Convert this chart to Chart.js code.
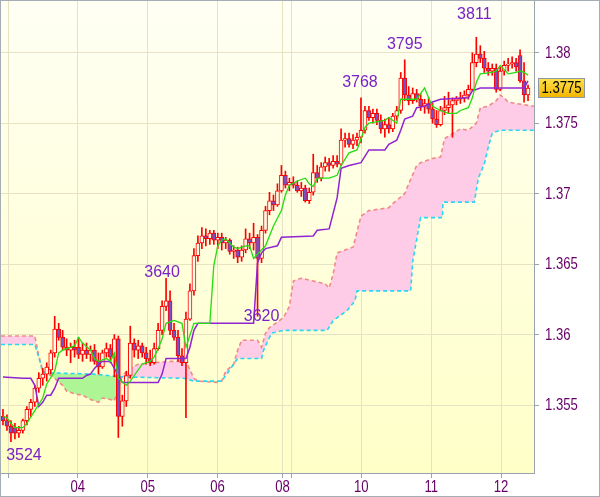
<!DOCTYPE html>
<html><head><meta charset="utf-8">
<script src="https://cdn.jsdelivr.net/npm/chart.js@4/dist/chart.umd.min.js"></script>
<style>html,body{margin:0;padding:0;background:#fff}#wrap{width:600px;height:497px}</style>
</head><body><div id="wrap"><canvas id="c" width="600" height="497"></canvas></div>
<script>
// ---- candle data (hourly, EURUSD-like) ----
const openP = [1.3542,1.3539,1.3535,1.3534,1.3530,1.3532,1.3539,1.3547,1.3552,1.3562,
 1.3569,1.3572,1.3575,1.3587,1.3604,1.3598,1.3591,1.3589,1.3591,1.3591,
 1.3586,1.3589,1.3586,1.3589,1.3581,1.3577,1.3587,1.3590,1.3584,1.3597,
 1.3542,1.3553,1.3571,1.3594,1.3589,1.3592,1.3587,1.3583,1.3580,1.3590,
 1.3603,1.3620,1.3624,1.3603,1.3598,1.3585,1.3580,1.3611,1.3631,1.3656,
 1.3665,1.3670,1.3668,1.3672,1.3667,1.3669,1.3665,1.3667,1.3659,1.3660,
 1.3655,1.3660,1.3668,1.3665,1.3669,1.3654,1.3674,1.3688,1.3695,1.3692,
 1.3702,1.3713,1.3706,1.3708,1.3706,1.3702,1.3704,1.3695,1.3701,1.3715,
 1.3711,1.3719,1.3722,1.3720,1.3723,1.3721,1.3738,1.3739,1.3735,1.3738,
 1.3740,1.3745,1.3759,1.3754,1.3757,1.3752,1.3746,1.3749,1.3746,1.3755,
 1.3759,1.3782,1.3770,1.3766,1.3771,1.3767,1.3762,1.3764,1.3760,1.3753,
 1.3749,1.3759,1.3761,1.3763,1.3766,1.3767,1.3768,1.3770,1.3774,1.3793,
 1.3799,1.3796,1.3789,1.3787,1.3789,1.3774,1.3787,1.3791,1.3792,1.3793,
 1.3798,1.3780,1.3770];
const highP = [1.3547,1.3543,1.3539,1.3537,1.3535,1.3540,1.3549,1.3554,1.3564,1.3573,
 1.3576,1.3580,1.3589,1.3613,1.3608,1.3603,1.3597,1.3594,1.3596,1.3598,
 1.3594,1.3594,1.3592,1.3593,1.3587,1.3589,1.3594,1.3593,1.3600,1.3599,
 1.3557,1.3574,1.3606,1.3597,1.3596,1.3594,1.3591,1.3589,1.3594,1.3608,
 1.3624,1.3640,1.3631,1.3608,1.3603,1.3590,1.3616,1.3636,1.3661,1.3670,
 1.3676,1.3675,1.3674,1.3674,1.3672,1.3672,1.3669,1.3668,1.3663,1.3662,
 1.3663,1.3675,1.3672,1.3679,1.3671,1.3677,1.3691,1.3701,1.3699,1.3707,
 1.3720,1.3716,1.3711,1.3712,1.3709,1.3708,1.3706,1.3704,1.3728,1.3720,
 1.3722,1.3726,1.3725,1.3727,1.3727,1.3746,1.3743,1.3743,1.3742,1.3743,
 1.3768,1.3762,1.3762,1.3760,1.3760,1.3756,1.3753,1.3754,1.3757,1.3762,
 1.3786,1.3795,1.3776,1.3775,1.3774,1.3771,1.3767,1.3768,1.3764,1.3759,
 1.3762,1.3769,1.3772,1.3768,1.3769,1.3772,1.3773,1.3777,1.3800,1.3811,
 1.3805,1.3801,1.3793,1.3792,1.3792,1.3790,1.3794,1.3796,1.3797,1.3796,
 1.3802,1.3793,1.3777];
const lowP = [1.3536,1.3532,1.3524,1.3526,1.3527,1.3530,1.3536,1.3542,1.3549,1.3559,
 1.3564,1.3567,1.3572,1.3584,1.3596,1.3589,1.3585,1.3580,1.3584,1.3583,
 1.3581,1.3583,1.3581,1.3579,1.3572,1.3576,1.3584,1.3580,1.3570,1.3527,
 1.3535,1.3549,1.3569,1.3584,1.3583,1.3584,1.3579,1.3578,1.3579,1.3589,
 1.3600,1.3617,1.3600,1.3596,1.3581,1.3578,1.3541,1.3610,1.3628,1.3652,
 1.3661,1.3663,1.3664,1.3664,1.3661,1.3660,1.3661,1.3657,1.3654,1.3651,
 1.3652,1.3658,1.3661,1.3660,1.3613,1.3651,1.3672,1.3685,1.3688,1.3691,
 1.3701,1.3704,1.3702,1.3704,1.3701,1.3698,1.3694,1.3693,1.3699,1.3708,
 1.3709,1.3716,1.3716,1.3718,1.3719,1.3720,1.3733,1.3733,1.3732,1.3734,
 1.3736,1.3743,1.3752,1.3750,1.3749,1.3743,1.3740,1.3743,1.3744,1.3752,
 1.3757,1.3766,1.3763,1.3764,1.3765,1.3759,1.3757,1.3757,1.3750,1.3747,
 1.3748,1.3756,1.3757,1.3740,1.3763,1.3764,1.3765,1.3767,1.3773,1.3790,
 1.3793,1.3786,1.3784,1.3784,1.3772,1.3773,1.3784,1.3787,1.3789,1.3787,
 1.3779,1.3765,1.3766];
const closeP = [1.3539,1.3535,1.3530,1.3530,1.3532,1.3539,1.3547,1.3552,1.3562,1.3569,
 1.3572,1.3577,1.3587,1.3604,1.3598,1.3591,1.3589,1.3591,1.3589,1.3586,
 1.3589,1.3586,1.3589,1.3581,1.3577,1.3587,1.3590,1.3584,1.3597,1.3542,
 1.3553,1.3571,1.3594,1.3589,1.3592,1.3587,1.3583,1.3580,1.3590,1.3603,
 1.3620,1.3624,1.3603,1.3598,1.3585,1.3580,1.3611,1.3631,1.3656,1.3665,
 1.3670,1.3668,1.3672,1.3667,1.3669,1.3665,1.3667,1.3659,1.3660,1.3655,
 1.3660,1.3668,1.3665,1.3669,1.3654,1.3674,1.3688,1.3695,1.3692,1.3702,
 1.3713,1.3706,1.3708,1.3706,1.3702,1.3704,1.3695,1.3701,1.3715,1.3711,
 1.3719,1.3722,1.3720,1.3723,1.3721,1.3738,1.3739,1.3735,1.3738,1.3740,
 1.3745,1.3759,1.3754,1.3757,1.3752,1.3746,1.3749,1.3746,1.3755,1.3759,
 1.3782,1.3770,1.3766,1.3771,1.3767,1.3762,1.3764,1.3760,1.3753,1.3749,
 1.3759,1.3761,1.3763,1.3766,1.3767,1.3768,1.3770,1.3774,1.3793,1.3799,
 1.3796,1.3789,1.3787,1.3789,1.3774,1.3787,1.3791,1.3792,1.3793,1.3790,
 1.3780,1.3770,1.3775];

// ---- Ichimoku lines: vertices (candle index, price) ----
const tenkanIdx = [0,1,2,3,5,6,8,10,11,13,14,15,18,19,20,22,23,24,26,27,28,29,31,32,35,37,38,39,40,41,43,45,46,48,52,53,54,55,56,57,58,59,61,62,63,65,66,68,70,71,72,74,76,77,78,79,82,84,85,87,89,91,92,96,97,99,100,104,106,107,108,110,112,114,115,117,118,119,120,123,124,125,127,129,130,131,132];
const tenkanVal = [1.3542,1.3541,1.3537,1.3534,1.3534,1.3537,1.3546,1.3555,1.3565,1.3574,1.3587,1.3589,1.3592,1.3598,1.3594,1.3589,1.3583,1.3581,1.3583,1.3581,1.3587,1.3569,1.3564,1.3567,1.3579,1.3581,1.3584,1.3590,1.3597,1.3608,1.3610,1.3608,1.3591,1.3608,1.3608,1.3649,1.3663,1.3667,1.3668,1.3665,1.3662,1.3661,1.3663,1.3663,1.3654,1.3660,1.3663,1.3677,1.3688,1.3699,1.3706,1.3709,1.3711,1.3707,1.3705,1.3711,1.3711,1.3713,1.3720,1.3729,1.3731,1.3747,1.3750,1.3752,1.3754,1.3750,1.3767,1.3767,1.3775,1.3768,1.3762,1.3759,1.3757,1.3757,1.3759,1.3761,1.3768,1.3779,1.3785,1.3786,1.3787,1.3791,1.3785,1.3786,1.3787,1.3786,1.3784];
const kijunIdx = [0,5,7,8,9,10,11,12,13,14,20,21,22,23,24,25,27,29,30,39,40,41,46,47,48,49,63,64,65,66,69,70,78,79,82,84,85,87,90,92,96,97,99,100,101,103,104,106,108,110,117,118,120,131,132];
const kijunVal = [1.3570,1.3569,1.3569,1.3564,1.3549,1.3552,1.3557,1.3557,1.3562,1.3569,1.3569,1.3571,1.3572,1.3576,1.3579,1.3581,1.3581,1.3571,1.3566,1.3566,1.3572,1.3583,1.3583,1.3591,1.3603,1.3608,1.3608,1.3651,1.3658,1.3661,1.3663,1.3669,1.3670,1.3674,1.3675,1.3697,1.3718,1.3720,1.3722,1.3731,1.3731,1.3735,1.3738,1.3745,1.3753,1.3755,1.3761,1.3762,1.3765,1.3767,1.3768,1.3773,1.3775,1.3775,1.3780];
const spanAIdx = [-0.5,8,9,10,12,13,15,16,18,20,22,24,25,27,28,29,30,32,34,38,42,46,48,49,54,55,56,58,59,60,64,65,66,67,70.5,72,73,75,78,81,82,83,84,86,88,90,92,97,98,101,102,104,105,108,110,111,115,117,119,120,122,124,125,126,127,129,133.5];
const spanAVal = [1.3599,1.3599,1.3585,1.3574,1.3571,1.3569,1.3564,1.3560,1.3558,1.3557,1.3554,1.3552,1.3555,1.3554,1.3553,1.3562,1.3571,1.3576,1.3579,1.3580,1.3581,1.3581,1.3569,1.3567,1.3566,1.3567,1.3574,1.3579,1.3589,1.3596,1.3596,1.3591,1.3601,1.3605,1.3612,1.3620,1.3638,1.3640,1.3638,1.3636,1.3633,1.3643,1.3658,1.3660,1.3662,1.3684,1.3688,1.3690,1.3693,1.3700,1.3707,1.3720,1.3722,1.3725,1.3726,1.3739,1.3746,1.3745,1.3750,1.3761,1.3762,1.3766,1.3770,1.3768,1.3765,1.3764,1.3762];
const spanBIdx = [-0.5,8,9.5,10,22.5,30,45.5,48,55,55.5,59,65,65.5,67.5,70.5,81.5,83,86.5,88.5,89,102.5,103,105,110.5,110.6,118.5,119.5,121,122,123,125,133.5];
const spanBVal = [1.3593,1.3593,1.3579,1.3573,1.3572,1.3570,1.3569,1.3567,1.3567,1.3569,1.3583,1.3583,1.3589,1.3601,1.3603,1.3603,1.3610,1.3617,1.3624,1.3631,1.3631,1.3652,1.3683,1.3683,1.3694,1.3694,1.3711,1.3721,1.3733,1.3743,1.3745,1.3745];

// ---- axis ticks ----
const xTickPos = [1.26, 18.82, 36.39, 53.95, 70.27, 72.52, 90.09, 107.66, 125.22];
const xTickLabels = ['', '04', '05', '06', '08', '', '10', '11', '12'];
const yTickVals = [1.355, 1.36, 1.365, 1.37, 1.375, 1.38];
const yTickLabels = ['1.355', '1.36', '1.365', '1.37', '1.375', '1.38'];

// ---- swing labels ----
const swingIdx = [2, 41, 64, 90, 101, 119];
const swingVal = [1.3524, 1.3640, 1.3620, 1.3768, 1.3795, 1.3811];
const swingText = ['3524', '3640', '3620', '3768', '3795', '3811'];

// ---- styling ----
const swingShift = [[13,14],[-4,-6],[4,10],[-1,-15],[0,-15],[-2,-23]];
const SANS = "'Liberation Sans', Arial, sans-serif";
const NARROW_SCALE = 0.82;
const AXIS_COL = '#660066';
const GRID_COL = '#e6e2c2';
const FRAME_COL = '#97a3ad';
const UP_FILL = '#fffde6';
const DN_FILL = '#7352c6';

const pts = (xs, ys) => xs.map((x, i) => ({x: x, y: ys[i]}));
const bodyData = openP.map((o, i) => ({x: i, y: [o, closeP[i]]}));
const wickData = lowP.map((l, i) => ({x: i, y: [l, highP[i]]}));
const bodyFill = openP.map((o, i) => closeP[i] < o ? DN_FILL : UP_FILL);

function narrowText(ctx, text, x, y, align) {
  ctx.save();
  ctx.translate(x, y);
  ctx.scale(NARROW_SCALE, 1);
  ctx.textAlign = align;
  ctx.fillText(text, 0, 0);
  ctx.restore();
}

const decor = {
  id: 'decor',
  beforeDraw(chart) {
    const {ctx, chartArea: a} = chart;
    ctx.save();
    ctx.fillStyle = '#ffffff';
    ctx.fillRect(0, 0, chart.width, chart.height);
    const g = ctx.createLinearGradient(0, a.top, 0, a.bottom);
    g.addColorStop(0, '#fffff4');
    g.addColorStop(1, '#ffffc8');
    ctx.fillStyle = g;
    ctx.fillRect(a.left, a.top, a.right - a.left, a.bottom - a.top);
    ctx.restore();
  },
  afterDatasetsDraw(chart) {
    const {ctx} = chart;
    const xs = chart.scales.x, ys = chart.scales.y;
    ctx.save();
    ctx.font = '16px ' + SANS;
    ctx.fillStyle = '#7a22c8';
    ctx.textAlign = 'center';
    ctx.textBaseline = 'middle';
    swingText.forEach((t, i) => {
      const px = xs.getPixelForValue(swingIdx[i]) + swingShift[i][0];
      const py = ys.getPixelForValue(swingVal[i]) + swingShift[i][1];
      ctx.fillText(t, px, py);
    });
    ctx.restore();
  },
  afterDraw(chart) {
    const {ctx, chartArea: a} = chart;
    const xs = chart.scales.x, ys = chart.scales.y;
    ctx.save();
    // axis labels (narrow face)
    ctx.font = '16px ' + SANS;
    ctx.fillStyle = AXIS_COL;
    ctx.textBaseline = 'middle';
    yTickVals.forEach((v, i) => narrowText(ctx, yTickLabels[i], a.right + 11, ys.getPixelForValue(v) + 0.5, 'left'));
    xTickPos.forEach((v, i) => narrowText(ctx, xTickLabels[i], xs.getPixelForValue(v), a.bottom + 15, 'center'));
    // frames
    ctx.strokeStyle = FRAME_COL;
    ctx.lineWidth = 1;
    ctx.beginPath();
    ctx.moveTo(a.left - 0.5, a.bottom); ctx.lineTo(a.left - 0.5, a.top - 0.5); ctx.lineTo(a.right, a.top - 0.5);
    ctx.stroke();
    ctx.strokeStyle = '#a4adb6';
    ctx.strokeRect(0.5, 0.5, chart.width - 1, chart.height - 1);
    // last price box
    const last = closeP[closeP.length - 1];
    const py = ys.getPixelForValue(last);
    const bx = 538, bw = 46, bh = 19, by = Math.round(py - 9.5) + 0.5;
    const g = ctx.createLinearGradient(0, by, 0, by + bh);
    g.addColorStop(0, '#ffe24a');
    g.addColorStop(1, '#f2b400');
    ctx.fillStyle = g;
    ctx.fillRect(bx + 0.5, by, bw, bh);
    ctx.strokeStyle = '#8c99a4';
    ctx.strokeRect(bx + 0.5, by, bw, bh);
    ctx.fillStyle = '#000000';
    ctx.font = '16px ' + SANS;
    ctx.textBaseline = 'middle';
    narrowText(ctx, last.toFixed(4), bx + bw / 2 + 0.5, by + bh / 2 + 1, 'center');
    ctx.restore();
  }
};

new Chart(document.getElementById('c'), {
  type: 'bar',
  data: {
    datasets: [
      { type: 'line', label: 'Senkou A', data: pts(spanAIdx, spanAVal), borderColor: '#f08a88', borderWidth: 1.6,
        borderDash: [4, 3], pointRadius: 0, tension: 0,
        fill: { target: '+1', above: '#ffcce8', below: '#aef596' }, order: 10 },
      { type: 'line', label: 'Senkou B', data: pts(spanBIdx, spanBVal), borderColor: '#2ad6f0', borderWidth: 1.6,
        borderDash: [4, 3], pointRadius: 0, tension: 0, fill: false, order: 9 },
      { type: 'bar', label: 'wick', data: wickData, backgroundColor: '#ff0000', borderWidth: 0,
        barThickness: 1, grouped: false, order: 6 },
      { type: 'bar', label: 'body', data: bodyData, backgroundColor: bodyFill, borderColor: '#ff0000',
        borderWidth: 1, borderSkipped: false, barThickness: 4, grouped: false, order: 5 },
      { type: 'line', label: 'Kijun', data: pts(kijunIdx, kijunVal), borderColor: '#9124d2', borderWidth: 1.5,
        pointRadius: 0, tension: 0, fill: false, order: 2 },
      { type: 'line', label: 'Tenkan', data: pts(tenkanIdx, tenkanVal), borderColor: '#22dd10', borderWidth: 1.3,
        pointRadius: 0, tension: 0, fill: false, order: 1 }
    ]
  },
  options: {
    responsive: false, animation: false, devicePixelRatio: 1,
    layout: { padding: { left: 1, top: 1, right: 0, bottom: 0 } },
    plugins: { legend: { display: false }, tooltip: { enabled: false } },
    scales: {
      x: {
        type: 'linear', min: -0.5, max: 133.5, offset: false,
        afterBuildTicks: s => { s.ticks = xTickPos.map(v => ({ value: v })); },
        afterFit: s => { s.height = 24; s.paddingLeft = 0; s.paddingRight = 0; },
        grid: { color: GRID_COL, offset: false, tickLength: 5, tickColor: FRAME_COL },
        border: { color: FRAME_COL },
        ticks: { display: false }
      },
      y: {
        type: 'linear', position: 'right', min: 1.35018, max: 1.38367,
        afterBuildTicks: s => { s.ticks = yTickVals.map(v => ({ value: v })); },
        afterFit: s => { s.width = 66; s.paddingTop = 0; s.paddingBottom = 0; },
        grid: { color: GRID_COL, tickLength: 5, tickColor: FRAME_COL },
        border: { color: FRAME_COL },
        ticks: { display: false }
      }
    }
  },
  plugins: [decor]
});
</script>
</body></html>
